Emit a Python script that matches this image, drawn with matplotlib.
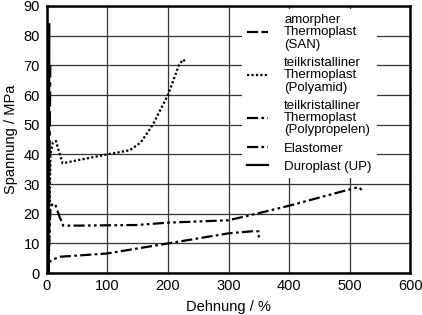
import matplotlib
matplotlib.use("Agg")
import matplotlib.pyplot as plt

plt.rcParams['font.family'] = ['Liberation Sans', 'DejaVu Sans']

# Werkstoffkurven (Dehnung in %, Spannung in MPa)
san_x = [2.5, 5]
san_y = [0, 70]

pa_x = [3, 6, 10, 15, 20, 26, 50, 100, 137, 155, 175, 200, 218, 225, 230]
pa_y = [0, 40, 44, 44.5, 41, 37, 38, 40, 41.4, 44, 50, 60, 70, 72, 71]

pp_x = [2, 6, 10, 14, 21, 27, 50, 148, 200, 300, 350, 400, 500, 515, 520]
pp_y = [0, 22, 23.5, 23, 19, 16, 16, 16.2, 17, 17.8, 20.2, 22.7, 28.2, 29, 28]

el_x = [0, 3, 8, 21, 99, 200, 300, 345, 350, 350]
el_y = [1, 3.5, 4.4, 5.5, 6.6, 10, 13.4, 14.2, 14, 12]

up_x = [1, 2.5]
up_y = [0, 83.5]

labels = ["amorpher\nThermoplast\n(SAN)",
          "teilkristalliner\nThermoplast\n(Polyamid)",
          "teilkristalliner\nThermoplast\n(Polypropelen)",
          "Elastomer",
          "Duroplast (UP)"]

fig = plt.figure(figsize=(4.22, 3.15), dpi=100)
ax = fig.add_axes([0.111, 0.133, 0.861, 0.848])

lw = 1.6
ax.plot(san_x, san_y, color='black', lw=2.2, ls=(0, (5, 1.5, 5, 1.5, 1.5, 1.5)), label=labels[0])
ax.plot(pa_x, pa_y, color='black', lw=lw, ls=(0, (1, 1)), label=labels[1])
ax.plot(pp_x, pp_y, color='black', lw=lw, ls=(0, (5, 1.5, 1.2, 1.5, 1.2, 1.5)), label=labels[2])
ax.plot(el_x, el_y, color='black', lw=lw, ls=(0, (5, 1.5, 1.2, 1.5)), label=labels[3])
ax.plot(up_x, up_y, color='black', lw=3.0, ls='-', label=labels[4])

ax.set_xlim(0, 600)
ax.set_ylim(0, 90)
ax.set_xticks(range(0, 601, 100))
ax.set_yticks(range(0, 91, 10))
ax.tick_params(length=0, labelsize=10.5)
ax.tick_params(axis='x', pad=4)
ax.tick_params(axis='y', pad=5)
ax.grid(True, color='#333333', lw=0.9)
ax.set_axisbelow(True)
for s in ax.spines.values():
    s.set_linewidth(1.8)

ax.set_xlabel("Dehnung / %", fontsize=10.5, labelpad=5)
ax.set_ylabel("Spannung / MPa", fontsize=10.5, labelpad=4)

leg = ax.legend(loc='upper right', bbox_to_anchor=(0.915, 1.0), fontsize=9.5,
                frameon=True, framealpha=1, edgecolor='none', fancybox=False,
                handlelength=1.6, handletextpad=1.2, borderpad=0.4,
                labelspacing=0.45, borderaxespad=0.2)
for t in leg.get_texts():
    t.set_linespacing(1.05)
for h in leg.legend_handles:
    h.set_linewidth(1.6)

fig.savefig("out.png", dpi=100)
